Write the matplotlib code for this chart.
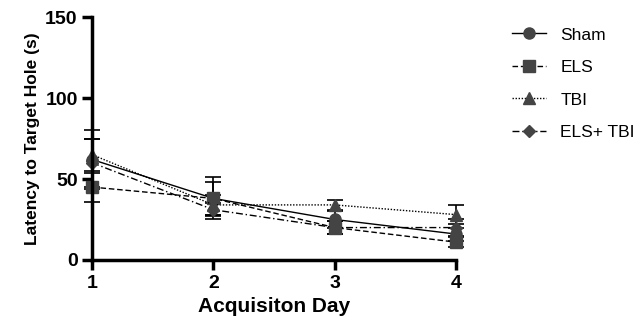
import matplotlib.pyplot as plt

plt.rcParams['font.family'] = ['Liberation Sans', 'DejaVu Sans']

days = [1, 2, 3, 4]
groups = ["Sham", "ELS", "TBI", "ELS+ TBI"]
sham = [62, 38, 25, 16]
sham_err = [18, 13, 5, 4]
els = [45, 38, 20, 11]
els_err = [9, 10, 4, 3]
tbi = [65, 34, 34, 28]
tbi_err = [10, 6, 3, 6]
els_tbi = [60, 31, 20, 20]
els_tbi_err = [15, 4, 4, 5]

series = [sham, els, tbi, els_tbi]
errors = [sham_err, els_err, tbi_err, els_tbi_err]
markers = ['o', 's', '^', 'D']
sizes = [8, 8, 8, 6]
styles = ['-', (0, (4, 2)), (0, (1, 1.2)), (0, (5, 2, 1, 2))]

fig = plt.figure(figsize=(6.36, 3.35), dpi=100)
ax = fig.add_axes([0.145, 0.224, 0.572, 0.725])

for name, y, e, m, s, ls in zip(groups, series, errors, markers, sizes, styles):
    ax.errorbar(days, y, yerr=e, color='black', linestyle=ls, linewidth=1.0,
                marker=m, markersize=s, markerfacecolor='#444444',
                markeredgecolor='#444444', ecolor='black', elinewidth=1.2,
                capsize=6, capthick=1.2, clip_on=False, label=name)

ax.set_xlim(1, 4)
ax.set_ylim(0, 150)
ax.set_xticks(days)
ax.set_yticks([0, 50, 100, 150])
for sp in ['top', 'right']:
    ax.spines[sp].set_visible(False)
for sp in ['left', 'bottom']:
    ax.spines[sp].set_linewidth(2.5)
ax.tick_params(width=2.5, length=7, labelsize=14)
for lab in ax.get_xticklabels() + ax.get_yticklabels():
    lab.set_fontweight('bold')
ax.set_xlabel('Acquisiton Day', fontsize=15, fontweight='bold')
ax.set_ylabel('Latency to Target Hole (s)', fontsize=12.5, fontweight='bold')

handles, labels = ax.get_legend_handles_labels()
handles = [h[0] for h in handles]
fig.legend(handles, labels, loc='upper left', bbox_to_anchor=(0.78, 0.965),
           frameon=False, fontsize=12.5, handlelength=2.0, handletextpad=0.8,
           labelspacing=1.0)

fig.savefig('out.png', dpi=100)
